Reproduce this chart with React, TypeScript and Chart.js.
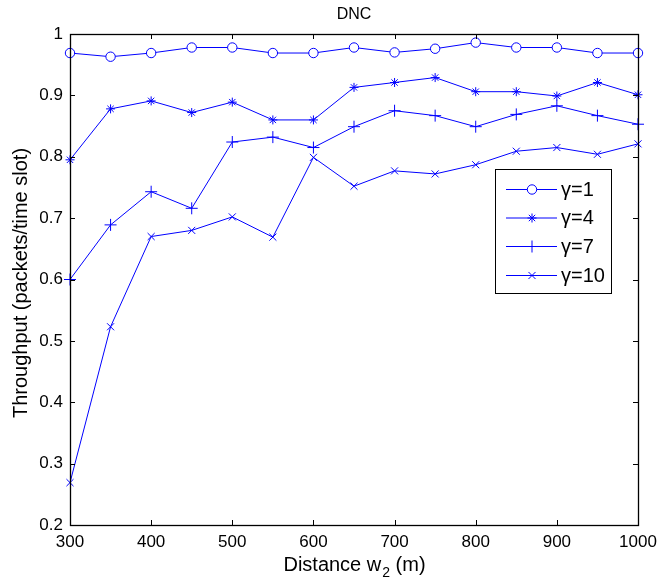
import React, { useEffect, useRef } from 'react';
import { Chart, registerables } from 'chart.js';
import { drawPoint } from 'chart.js/helpers';

Chart.register(...registerables);

const distances = [300, 350, 400, 450, 500, 550, 600, 650, 700, 750, 800, 850, 900, 950, 1000];
const gamma1 = [0.969, 0.963, 0.969, 0.978, 0.978, 0.969, 0.969, 0.978, 0.970, 0.976, 0.986, 0.978, 0.978, 0.969, 0.969];
const gamma4 = [0.795, 0.878, 0.891, 0.872, 0.889, 0.860, 0.860, 0.913, 0.921, 0.929, 0.906, 0.906, 0.899, 0.921, 0.901];
const gamma7 = [0.600, 0.689, 0.743, 0.716, 0.824, 0.832, 0.815, 0.849, 0.875, 0.867, 0.849, 0.869, 0.883, 0.867, 0.853];
const gamma10 = [0.269, 0.523, 0.670, 0.680, 0.702, 0.669, 0.799, 0.752, 0.777, 0.772, 0.787, 0.809, 0.815, 0.804, 0.821];
const seriesLabels = ['γ=1', 'γ=4', 'γ=7', 'γ=10'];
const xTickValues = [300, 400, 500, 600, 700, 800, 900, 1000];
const yTickValues = [0.2, 0.3, 0.4, 0.5, 0.6, 0.7, 0.8, 0.9, 1.0];
const chartTitle = 'DNC';
const xTitleMain = 'Distance w';
const xTitleSub = '2';
const xTitleTail = ' (m)';
const yTitle = 'Throughput (packets/time slot)';

const FONT = '"Liberation Sans", Arial, Helvetica, sans-serif';
const BLUE = 'rgb(0,0,255)';

const decorPlugin = {
  id: 'decor',
  afterDatasetsDraw(chart: any) {
    const ctx = chart.ctx as CanvasRenderingContext2D;
    const { left, right, top, bottom } = chart.chartArea;
    const xs = chart.scales.x;
    const ys = chart.scales.y;
    ctx.save();
    // inward ticks
    ctx.strokeStyle = '#000';
    ctx.lineWidth = 1;
    ctx.beginPath();
    const tl = 5;
    for (const v of xTickValues) {
      const px = Math.round(xs.getPixelForValue(v)) + 0.5;
      ctx.moveTo(px, bottom);
      ctx.lineTo(px, bottom - tl);
      ctx.moveTo(px, top);
      ctx.lineTo(px, top + tl);
    }
    for (const v of yTickValues) {
      const py = Math.round(ys.getPixelForValue(v)) + 0.5;
      ctx.moveTo(left, py);
      ctx.lineTo(left + tl, py);
      ctx.moveTo(right, py);
      ctx.lineTo(right - tl, py);
    }
    ctx.stroke();
    // box
    ctx.lineWidth = 1.3;
    ctx.strokeRect(left + 0.5, top + 0.5, right - left, bottom - top);

    // legend
    const lx = 495, ly = 169, lw = 116, lh = 124;
    ctx.fillStyle = '#fff';
    ctx.fillRect(lx, ly, lw, lh);
    ctx.lineWidth = 1;
    ctx.strokeStyle = '#000';
    ctx.strokeRect(lx + 0.5, ly + 0.5, lw, lh);
    const rowsY = [189, 217.5, 246, 275];
    chart.data.datasets.forEach((ds: any, i: number) => {
      const y = rowsY[i];
      ctx.strokeStyle = BLUE;
      ctx.lineWidth = 1;
      ctx.beginPath();
      ctx.moveTo(506, y + 0.5);
      ctx.lineTo(557, y + 0.5);
      ctx.stroke();
      ctx.fillStyle = '#fff';
      ctx.strokeStyle = BLUE;
      drawPoint(ctx, { pointStyle: ds.pointStyle, radius: ds.pointRadius, rotation: 0, borderWidth: 1 } as any, 532, y + 0.5);
      ctx.fillStyle = '#000';
      ctx.font = `20px ${FONT}`;
      ctx.textAlign = 'left';
      ctx.textBaseline = 'middle';
      ctx.fillText(ds.label, 561, y + 1);
    });

    // title
    ctx.fillStyle = '#000';
    ctx.font = `16px ${FONT}`;
    ctx.textAlign = 'center';
    ctx.textBaseline = 'alphabetic';
    ctx.fillText(chartTitle, (left + right) / 2, 19);

    // x title with subscript
    ctx.font = `20px ${FONT}`;
    const wMain = ctx.measureText(xTitleMain).width;
    const wTail = ctx.measureText(xTitleTail).width;
    ctx.font = `14px ${FONT}`;
    const wSub = ctx.measureText(xTitleSub).width;
    const total = wMain + wSub + wTail;
    let x0 = (left + right) / 2 - total / 2;
    const base = 571;
    ctx.textAlign = 'left';
    ctx.font = `20px ${FONT}`;
    ctx.fillText(xTitleMain, x0, base);
    ctx.font = `14px ${FONT}`;
    ctx.fillText(xTitleSub, x0 + wMain + 1, base + 6);
    ctx.font = `20px ${FONT}`;
    ctx.fillText(xTitleTail, x0 + wMain + wSub + 1, base);

    // y title
    ctx.save();
    ctx.translate(27, 283);
    ctx.rotate(-Math.PI / 2);
    ctx.textAlign = 'center';
    ctx.textBaseline = 'alphabetic';
    ctx.font = `20px ${FONT}`;
    ctx.fillText(yTitle, 0, 0);
    ctx.restore();

    ctx.restore();
  },
};

export default function App() {
  const ref = useRef<HTMLCanvasElement | null>(null);
  useEffect(() => {
    if (!ref.current) return;
    const mk = (label: string, values: number[], style: string, radius: number) => ({
      label,
      data: distances.map((d, i) => ({ x: d, y: values[i] })),
      borderColor: BLUE,
      backgroundColor: '#fff',
      borderWidth: 1,
      pointStyle: style,
      pointRadius: radius,
      pointBorderColor: BLUE,
      pointBackgroundColor: '#fff',
      pointBorderWidth: 1,
      tension: 0,
      clip: false as any,
    });
    const chart = new Chart(ref.current, {
      type: 'line',
      data: {
        datasets: [
          mk(seriesLabels[0], gamma1, 'circle', 4.7),
          mk(seriesLabels[1], gamma4, 'star', 4.5),
          mk(seriesLabels[2], gamma7, 'cross', 6),
          mk(seriesLabels[3], gamma10, 'crossRot', 5),
        ],
      },
      options: {
        animation: false,
        responsive: false,
        events: [],
        layout: { padding: { left: 0, top: 34, right: 21, bottom: 0 } },
        plugins: { legend: { display: false }, title: { display: false }, tooltip: { enabled: false } },
        scales: {
          x: {
            type: 'linear',
            min: 300,
            max: 1000,
            afterFit: (s: any) => { s.height = 63; s.paddingRight = 0; s.paddingLeft = 0; },
            afterBuildTicks: (s: any) => { s.ticks = xTickValues.map((v) => ({ value: v })); },
            grid: { display: false, drawTicks: false },
            border: { display: false },
            ticks: {
              color: '#000',
              font: { family: FONT, size: 17 },
              padding: 7,
              maxRotation: 0,
              autoSkip: false,
              callback: (v: any) => String(v),
            },
          },
          y: {
            type: 'linear',
            min: 0.2,
            max: 1,
            afterFit: (s: any) => { s.width = 70; s.paddingTop = 0; s.paddingBottom = 0; },
            afterBuildTicks: (s: any) => { s.ticks = yTickValues.map((v) => ({ value: v })); },
            grid: { display: false, drawTicks: false },
            border: { display: false },
            ticks: {
              color: '#000',
              font: { family: FONT, size: 17 },
              padding: 7,
              autoSkip: false,
              callback: (v: any) => Number(v).toFixed(1).replace(/\.0$/, ''),
            },
          },
        },
      },
      plugins: [decorPlugin],
    });
    return () => chart.destroy();
  }, []);
  return (
    <div style={{ position: 'absolute', left: 0, top: 0, width: 659, height: 588, background: '#fff' }}>
      <canvas ref={ref} width={659} height={588} style={{ display: 'block' }} />
    </div>
  );
}
